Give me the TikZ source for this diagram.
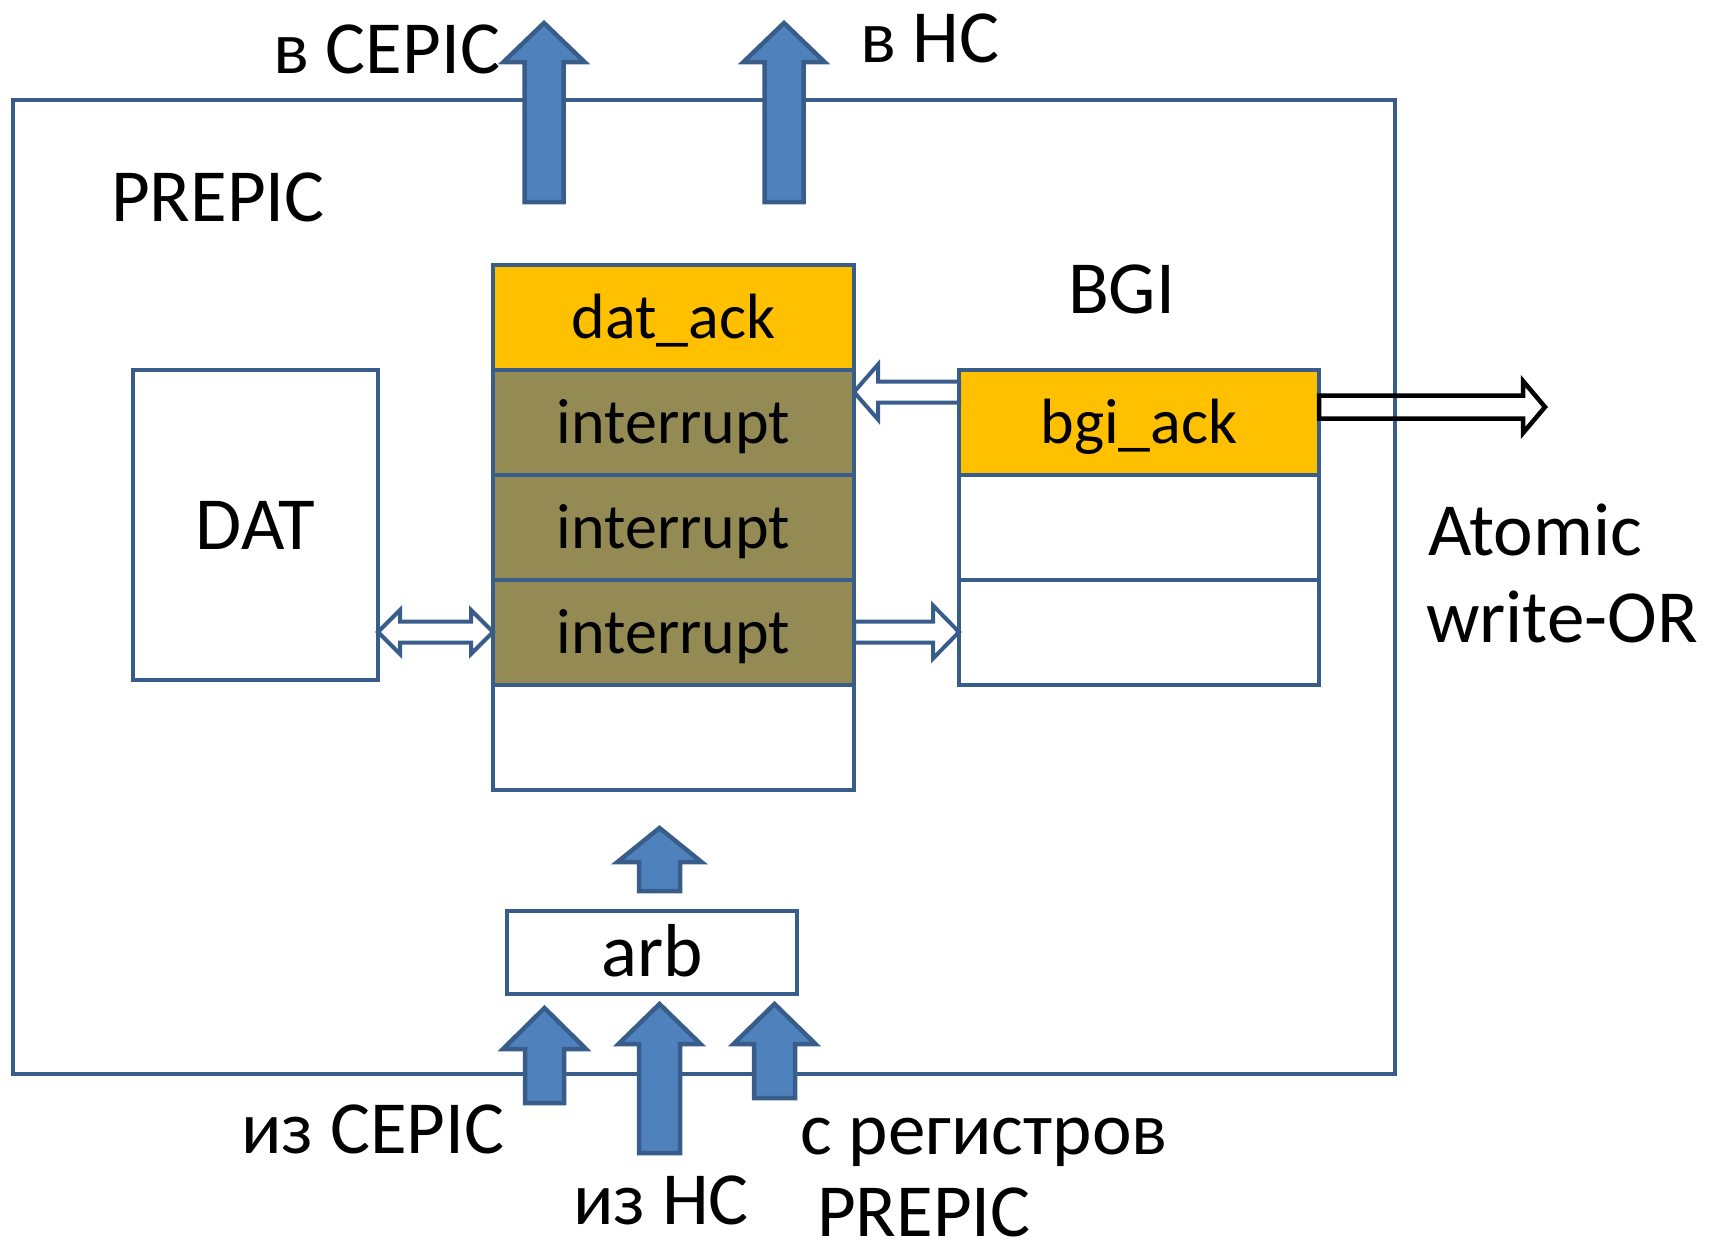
\documentclass[tikz,border=0pt]{standalone}
\usepackage{fontspec}
\setmainfont{Carlito}
\usetikzlibrary{calc}

\definecolor{lineblue}{RGB}{56,93,138}
\definecolor{fillblue}{RGB}{79,129,189}
\definecolor{ackorange}{RGB}{255,192,0}
\definecolor{intolive}{RGB}{148,138,84}

% straight block arrow: style, tail, tip, shaft half-width, head half-width, head length
\newcommand{\blockarrow}[6]{%
  \coordinate (ba-c) at ($(#3)!#6!(#2)$);
  \draw[#1] ($(#2)!#4!90:(#3)$) -- ($(ba-c)!#4!90:(#3)$) -- ($(ba-c)!#5!90:(#3)$) -- (#3)
    -- ($(ba-c)!#5!-90:(#3)$) -- ($(ba-c)!#4!-90:(#3)$) -- ($(#2)!#4!-90:(#3)$) -- cycle;}

% block arrow with a head at both ends
\newcommand{\twowayarrow}[6]{%
  \coordinate (ta-a) at ($(#2)!#6!(#3)$);
  \coordinate (ta-b) at ($(#3)!#6!(#2)$);
  \draw[#1] (#2) -- ($(ta-a)!#5!90:(#3)$) -- ($(ta-a)!#4!90:(#3)$) -- ($(ta-b)!#4!90:(#3)$)
    -- ($(ta-b)!#5!90:(#3)$) -- (#3) -- ($(ta-b)!#5!-90:(#3)$) -- ($(ta-b)!#4!-90:(#3)$)
    -- ($(ta-a)!#4!-90:(#3)$) -- ($(ta-a)!#5!-90:(#3)$) -- cycle;}

\tikzset{
  every node/.style={font=\fontsize{75pt}{87pt}\selectfont, inner sep=0pt, outer sep=0pt},
  frame/.style={draw=lineblue, line width=4pt},
  boxtext/.style={text height=48pt, text depth=0pt},
  cell/.style={frame, minimum width=361pt, minimum height=105pt, text height=42pt, text depth=0pt,
    font=\fontsize{64pt}{77pt}\selectfont},
  ackcell/.style={cell, fill=ackorange},
  intcell/.style={cell, fill=intolive},
  emptycell/.style={cell, fill=white},
  label/.style={anchor=base west},
  bigarrow/.style={draw=lineblue, fill=fillblue, line width=4.5pt, line join=miter},
  thinarrow/.style={draw=lineblue, fill=white, line width=4pt, line join=miter},
  blackarrow/.style={draw=black, line width=4.5pt, line join=miter},
}

\begin{document}
\begin{tikzpicture}[x=1pt, y=-1pt]
\useasboundingbox (0,0) rectangle (1715,1245);

% PREPIC enclosure
\node[frame, minimum width=1382pt, minimum height=974pt] (prepic) at (704,587) {};
\node[label] (prepicname) at (111,221) {PREPIC};

% DAT
\node[frame, boxtext, minimum width=245pt, minimum height=310pt] (dat) at (255.5,525) {DAT};

% interrupt table
\node[ackcell]   (datack) at (673.5,317)   {dat\_ack};
\node[intcell]   (int1)   at (673.5,422)   {interrupt};
\node[intcell]   (int2)   at (673.5,527)   {interrupt};
\node[intcell]   (int3)   at (673.5,632)   {interrupt};
\node[emptycell] (intx)   at (673.5,737)   {};

% BGI table
\node[label] (bginame) at (1068,313) {BGI};
\node[cell, minimum width=360pt, fill=ackorange] (bgi1) at (1139,422) {bgi\_ack};
\node[cell, minimum width=360pt] (bgi2) at (1139,527) {};
\node[cell, minimum width=360pt] (bgi3) at (1139,632) {};

% arbiter
\node[frame, boxtext, minimum width=290pt, minimum height=83pt] (arb) at (652,952.5) {arb};

% thin arrows between the tables
\blockarrow{thinarrow}{$(bgi1.west)+(0,-30)$}{$(int1.east)+(0,-30)$}{10.5pt}{27.5pt}{24pt}
\blockarrow{thinarrow}{int3.east}{bgi3.west}{10.5pt}{26.5pt}{26pt}
\twowayarrow{thinarrow}{dat.east |- int3.west}{int3.west}{10.5pt}{22pt}{22pt}

% atomic write-OR output
\coordinate (awor) at (1545,407);
\blockarrow{blackarrow}{$(bgi1.east)+(0,-15)$}{awor}{11.5pt}{26pt}{22pt}
\node[label] (atomic) at (1428,555) {Atomic};
\node[label] (writeor) at (1426,642) {write-OR};

% outputs at the top
\coordinate (out1a) at (544,202);
\coordinate (out1b) at (544,23);
\coordinate (out2a) at (784,202);
\coordinate (out2b) at (784,23);
\blockarrow{bigarrow}{out1a}{out1b}{19.5pt}{40.5pt}{39pt}
\blockarrow{bigarrow}{out2a}{out2b}{19.5pt}{40.5pt}{39pt}
\node[label] (tocepic) at (273,73) {в CEPIC};
\node[label] (tonc) at (860,62) {в НС};

% arbiter into the table
\coordinate (arbout) at (659.5,891);
\coordinate (arbtip) at (659.5,828);
\blockarrow{bigarrow}{arbout}{arbtip}{20.5pt}{42pt}{34pt}

% inputs at the bottom
\coordinate (in1a) at (544.5,1103);
\coordinate (in1b) at (544.5,1008);
\coordinate (in2a) at (659.5,1153);
\coordinate (in2b) at (659.5,1004);
\coordinate (in3a) at (774.5,1098);
\coordinate (in3b) at (774.5,1004);
\blockarrow{bigarrow}{in1a}{in1b}{19.5pt}{41.5pt}{41pt}
\blockarrow{bigarrow}{in2a}{in2b}{20.5pt}{41pt}{40pt}
\blockarrow{bigarrow}{in3a}{in3b}{20.5pt}{41pt}{40pt}
\node[label] (fromcepic) at (241,1153) {из CEPIC};
\node[label] (fromnc) at (573,1224) {из НС};
\node[label] (fromregs) at (800,1154) {с регистров};
\node[label] (fromregs2) at (817,1236) {PREPIC};
\end{tikzpicture}
\end{document}
